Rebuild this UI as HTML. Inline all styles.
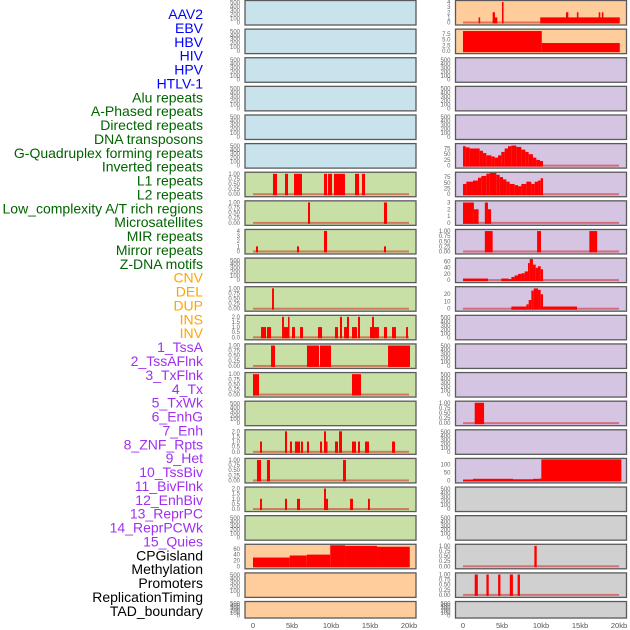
<!DOCTYPE html>
<html><head><meta charset="utf-8"><style>
html,body{margin:0;padding:0;background:#fff;}
svg{display:block;font-family:"Liberation Sans",sans-serif;}
</style></head><body>
<svg id="chart" width="630" height="630" viewBox="0 0 630 630" xmlns="http://www.w3.org/2000/svg"></svg>
<script>
// ---- data ----
const labelNames = ["AAV2","EBV","HBV","HIV","HPV","HTLV-1","Alu repeats","A-Phased repeats","Directed repeats","DNA transposons","G-Quadruplex forming repeats","Inverted repeats","L1 repeats","L2 repeats","Low_complexity A/T rich regions","Microsatellites","MIR repeats","Mirror repeats","Z-DNA motifs","CNV","DEL","DUP","INS","INV","1_TssA","2_TssAFlnk","3_TxFlnk","4_Tx","5_TxWk","6_EnhG","7_Enh","8_ZNF_Rpts","9_Het","10_TssBiv","11_BivFlnk","12_EnhBiv","13_ReprPC","14_ReprPCWk","15_Quies","CPGisland","Methylation","Promoters","ReplicationTiming","TAD_boundary"];
const labelGroups = ["v","v","v","v","v","v","r","r","r","r","r","r","r","r","r","r","r","r","r","c","c","c","c","c","s","s","s","s","s","s","s","s","s","s","s","s","s","s","s","o","o","o","o","o"];
const xTickValues = [0,5,10,15,20];
const xTickLabels = ["0","5kb","10kb","15kb","20kb"];
const midColors = ["b","b","b","b","b","b","g","g","g","g","g","g","g","g","g","g","g","g","g","o","o","o"];
const rightColors = ["o","o","p","p","p","p","p","p","p","p","p","p","p","p","p","p","p","x","x","x","x","x"];
const midMax = [530,530,530,530,530,530,1.03,1.03,4.1,530,1.03,2.05,1.03,1.03,530,2.05,1.03,2.05,530,72,530,530];
const rightMax = [4.1,9.2,530,530,530,92,92,3.1,1.03,68,29,530,530,530,1.03,530,130,530,530,1.03,1.03,530];
const midTicks = [null,null,null,null,null,null,"u","u",[0,1,2,3,4],null,"u","h",  "u","u",null,"h","u","h",null,[0,20,40,60],null,null];
const rightTicks = [[0,1,2,3,4],[0,2.5,5,7.5],null,null,null,[0,25,50,75],[0,25,50,75],[0,1,2,3],"u",[0,20,40,60],[0,10,20],null,null,null,"u",null,[0,50,100],null,null,"u","u",null];
const midBars = [[],[],[],[],[],[],
 [[2.56,3.08,1],[4.1,4.49,1],[5.26,6.28,1],[9.1,9.49,1],[9.62,10.13,1],[10.38,11.79,1],[13.08,13.59,1],[13.97,14.36,1]],
 [[7.05,7.31,1],[16.79,17.18,1]],
 [[0.38,0.64,1],[5.64,5.9,1],[9.1,9.49,4],[16.79,17.05,1]],
 [],
 [[2.44,2.69,1]],
 [[1.03,1.67,1],[1.79,2.31,1],[3.72,3.97,2],[3.97,4.49,1],[4.49,4.62,2],[5.0,5.38,1],[6.03,6.41,1],[8.33,8.85,1],[10.51,10.9,1],[11.15,11.41,2],[11.67,12.18,1],[12.05,12.31,2],[12.69,13.33,1],[13.46,13.72,2],[15.0,15.38,1],[15.26,15.51,2],[15.38,16.15,1],[16.79,17.18,1],[17.82,18.33,1],[19.62,19.87,1]],
 [[2.31,2.82,1],[6.92,8.46,1],[8.59,10.0,1],[17.31,20.13,1]],
 [[0,0.77,1],[12.69,13.85,1]],
 [],
 [[0.9,1.15,1],[4.1,4.36,2],[4.74,5.0,1],[5.38,6.03,1],[6.15,6.41,1],[6.92,7.18,1],[8.59,8.85,1],[9.1,9.36,2],[9.36,9.49,1],[10.51,10.9,1],[11.03,11.41,2],[12.69,13.2,1],[13.46,13.72,1],[14.36,14.87,1],[17.82,18.21,1]],
 [[0.51,1.03,1],[1.79,2.18,1],[11.54,11.92,1]],
 [[0.9,1.15,1],[4.1,4.36,1],[5.64,6.03,1],[9.1,9.36,2],[9.36,9.62,1],[12.44,12.82,1],[14.74,14.99,1]],
 [],
 [[0,4.7,30],[4.7,6.9,37],[6.9,9.9,40],[9.9,11.8,72],[11.8,15.9,70],[15.9,20.1,67]],
 [],[]];
const rightBars = [
 [[2.0,2.2,1],[3.8,4.1,2],[4.1,4.4,1],[5.0,5.2,4],[9.9,20.1,1],[13.2,13.5,2],[14.6,14.8,2],[17.4,17.6,2],[17.8,18.0,2]],
 [[0,10.1,8.8],[10.1,20.1,3.55]],
 [],[],[],
 [[0,0.34,85],[0.34,0.85,80],[0.85,2.14,75],[2.14,2.56,65],[2.56,2.99,55],[2.99,3.63,45],[3.63,4.06,40],[4.06,4.49,35],[4.49,4.91,45],[4.91,5.34,60],[5.34,5.77,75],[5.77,6.2,85],[6.2,6.84,88],[6.84,7.48,82],[7.48,7.99,70],[7.99,8.42,60],[8.42,8.97,50],[8.97,9.4,35],[9.4,9.87,25],[9.87,10.26,20]],
 [[0,0.43,45],[0.43,1.28,55],[1.28,1.92,60],[1.92,2.35,72],[2.35,2.99,80],[2.99,3.42,90],[3.42,4.27,95],[4.27,4.7,85],[4.7,5.13,75],[5.13,5.56,65],[5.56,5.98,55],[5.98,6.62,45],[6.62,7.05,40],[7.05,7.48,35],[7.48,8.12,45],[8.12,8.76,55],[8.76,9.19,45],[9.19,9.62,55],[9.62,9.96,60],[9.96,10.26,70]],
 [[0,1.4,3],[1.4,2.0,2],[2.8,3.2,3],[3.2,3.6,2]],
 [[2.8,3.8,1],[9.5,10.0,1],[16.2,17.2,1]],
 [[0,3.2,5],[4.91,5.85,5],[5.85,6.2,3],[6.2,6.62,10],[6.62,7.05,15],[7.05,7.48,20],[7.48,7.91,22],[7.91,8.33,28],[8.33,8.55,55],[8.55,8.97,68],[8.97,9.32,50],[9.32,9.62,40],[9.62,9.96,45],[9.96,10.26,35]],
 [[6.2,8.12,3],[8.12,8.42,6],[8.42,8.76,12],[8.76,9.06,25],[9.06,9.62,28],[9.62,9.96,26],[9.96,10.26,20],[10.26,14.62,3]],
 [],[],[],
 [[1.5,2.7,1]],
 [],
 [[0,1.28,5],[1.28,6.41,10],[6.41,8.97,7],[8.97,9.83,10],[9.83,10.04,12],[10.04,20.3,130]],
 [],[],
 [[9.15,9.45,1]],
 [[1.5,1.9,1],[3.0,3.3,1],[4.5,4.8,1],[6.0,6.4,1],[7.0,7.3,1]],
 []];

// ---- layout ----
const NS = "http://www.w3.org/2000/svg";
const svg = document.getElementById("chart");
const fills = {b:"#c8e3ec",g:"#c8e0a6",o:"#ffcd9c",p:"#d5c5e2",x:"#d0d0d0"};
const labelColors = {v:"#0000ff",r:"#006400",c:"#ffa500",s:"#a030f0",o:"#000000"};
const cols = [{x:245,w:171,x0:253},{x:455.5,w:171,x0:463}];
const kbPx = 7.8;
function rowTop(i){ return 0.5 + 28.62*i; }
function rowH(i){ return i===21 ? 16.5 : 24.5; }
function mk(tag, attrs, parent){ const e=document.createElementNS(NS,tag); for(const k in attrs) e.setAttribute(k,attrs[k]); (parent||svg).appendChild(e); return e; }

// labels
labelNames.forEach((n,i)=>{
  const t = mk("text",{x:203,y:14+i*13.88,"text-anchor":"end","dominant-baseline":"central","font-size":"14",fill:labelColors[labelGroups[i]]});
  t.textContent = n;
  
  
});

function drawPanel(ci, i, color, ymax, ticks, bars){
  const c = cols[ci];
  const top = rowTop(i), h = rowH(i);
  const g = mk("g",{});
  
  
  mk("rect",{x:c.x,y:top,width:c.w,height:h,fill:fills[color]},g);
  const yZero = top + h - 2.5, yTop = top + 1;
  const ys = v => yZero - (v/ymax)*(yZero-yTop);
  const xs = kb => c.x0 + kb*kbPx;
  let tv = ticks;
  if (tv === null) tv = [0,100,200,300,400,500];
  else if (tv === "u") tv = [0,0.25,0.5,0.75,1];
  else if (tv === "h") tv = [0,0.5,1,1.5,2];
  const dec = (ticks==="u") ? 2 : (ticks==="h"||(Array.isArray(ticks)&&ticks.includes(2.5))) ? 1 : 0;
  tv.forEach(v=>{
    const t = mk("text",{x:c.x-5,y:ys(v)+2,"text-anchor":"end","font-size":"6",fill:"#666"},g);
    t.textContent = v.toFixed(dec);
    
    
  });
  if (bars.length){
    const bl = mk("rect",{x:xs(0),y:yZero-1,width:xs(20)-xs(0),height:2,fill:"rgba(210,0,0,0.45)"},g);
    
    
  }
  bars.forEach(b=>{
    const y = Math.max(ys(b[2]), top+0.5);
    const r = mk("rect",{x:xs(b[0]),y:y,width:Math.max(xs(b[1])-xs(b[0]),1.5),height:yZero-y+1,fill:"#ff0000"},g);
    
    
  });
  mk("rect",{x:c.x,y:top,width:c.w,height:h,fill:"none",stroke:"#5a5a5a","stroke-width":"1.3"},g);
}
for(let i=0;i<22;i++){
  drawPanel(0,i,midColors[i],midMax[i],midTicks[i],midBars[i]);
  drawPanel(1,i,rightColors[i],rightMax[i],rightTicks[i],rightBars[i]);
}
// x axis labels
cols.forEach(c=>{
  xTickValues.forEach((v,k)=>{
    const t = mk("text",{x:c.x0+v*kbPx,y:628,"text-anchor":"middle","font-size":"7.5",fill:"#555"});
    t.textContent = xTickLabels[k];
    
    
  });
});
</script>
</body></html>
